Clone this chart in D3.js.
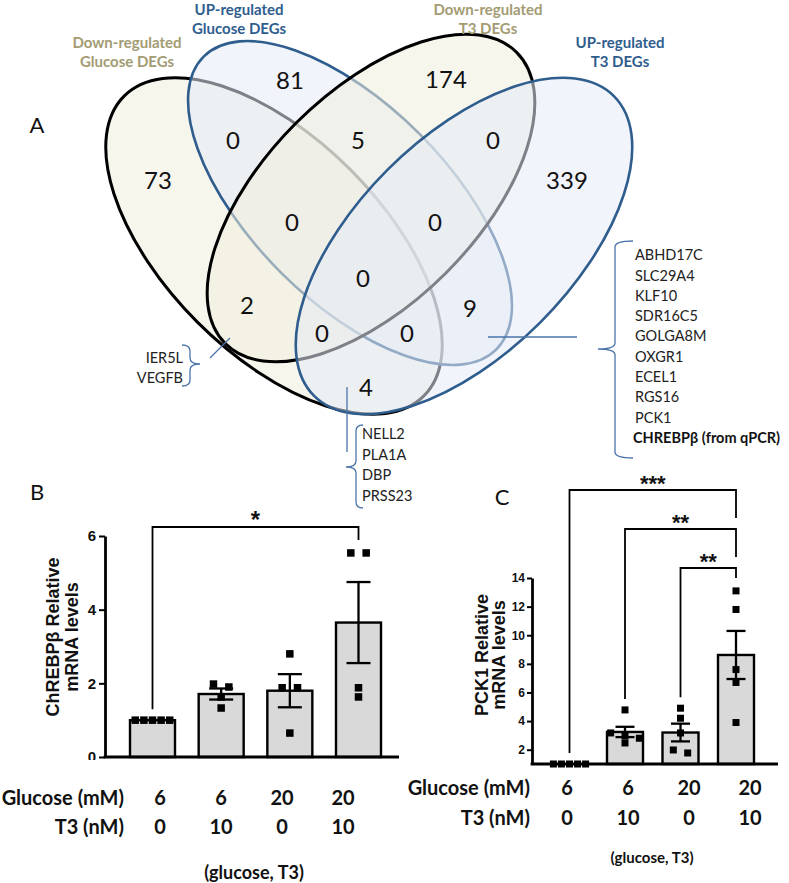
<!DOCTYPE html>
<html><head><meta charset="utf-8">
<script src="https://cdn.jsdelivr.net/npm/d3@7"></script>
<style>body{margin:0;background:#fff} svg{display:block}</style>
</head><body><svg id="fig" width="789" height="883"></svg>
<script>
// ================= DATA =================
// Venn (panel A)
const vennSetTitles = [["Down-regulated","Glucose DEGs"],["UP-regulated","Glucose DEGs"],["Down-regulated","T3 DEGs"],["UP-regulated","T3 DEGs"]];
const vennRegionSets   = ["A","B","C","D","AB","BC","CD","ABC","BCD","ABCD","AC","BD","ACD","ABD","AD"];
const vennRegionCounts = [73, 81, 174, 339, 0, 5, 0, 0, 0, 0, 2, 9, 0, 0, 4];
const genesAC = ["IER5L","VEGFB"];
const genesAD = ["NELL2","PLA1A","DBP","PRSS23"];
const genesBD = ["ABHD17C","SLC29A4","KLF10","SDR16C5","GOLGA8M","OXGR1","ECEL1","RGS16","PCK1"];
const genesBDqpcr = "CHREBPβ (from qPCR)";

// Bar charts (panels B, C)
const groups = ["6,0","6,10","20,0","20,10"];
const glucoseLabels = ["6","6","20","20"];
const t3Labels = ["0","10","0","10"];

const chrebpMean = [1.0, 1.71, 1.80, 3.65];
const chrebpSem  = [0, 0.15, 0.45, 1.10];
const chrebpPoints = [[1,1,1,1,1],[1.98,1.90,1.63,1.33],[2.80,1.88,1.88,0.65],[5.54,5.54,1.88,1.63]];
const chrebpTicks = [0,2,4,6];
const chrebpSig = [{from:0,to:3,label:"*"}];

const pck1Mean = [1.0, 3.24, 3.20, 8.62];
const pck1Sem  = [0, 0.36, 0.62, 1.68];
const pck1Points = [[1,1,1,1,1],[4.78,3.17,2.96,2.80,2.47],[4.90,4.20,3.17,1.98,1.77],[13.1,11.8,7.6,6.7,3.9]];
const pck1Ticks = [2,4,6,8,10,12,14];
const pck1Sig = [{from:0,to:3,label:"***"},{from:1,to:3,label:"**"},{from:2,to:3,label:"**"}];

// ================= DRAWING =================
const svg = d3.select("#fig");
svg.append("rect").attr("width",789).attr("height",883).attr("fill","#fff");
const VF = "Lato, 'Open Sans', sans-serif";
const AF = "'Liberation Sans', Arial, sans-serif";
const BLUE = "#2f5d8e", KHAKI = "#a39b72", LBLUE = "#4a74a8";

// ---- Venn geometry (layout) ----
const ellipses = [
  {cx:274, cy:246, rx:212, ry:108, rot:45,  fill:"#f1efdf", stroke:"#000", sw:3},
  {cx:350, cy:203, rx:207, ry:98,  rot:45,  fill:"#e6ebf5", stroke:BLUE,   sw:2.6},
  {cx:371, cy:198, rx:206, ry:106, rot:-45, fill:"#f1efdf", stroke:"#000", sw:3},
  {cx:464, cy:246, rx:212, ry:108, rot:-45, fill:"#e6ebf5", stroke:BLUE,   sw:2.6}
];
const venn = svg.append("g");
venn.selectAll("ellipse").data(ellipses).join("ellipse")
  .attr("transform", d => `translate(${d.cx},${d.cy}) rotate(${d.rot})`)
  .attr("rx", d => d.rx).attr("ry", d => d.ry)
  .attr("fill", d => d.fill).attr("fill-opacity", 0.55)
  .attr("stroke", d => d.stroke).attr("stroke-width", d => d.sw);

const regionPos = {A:[158,180],B:[290,80],C:[446,79],D:[567,180],AB:[233,140],BC:[358,140],CD:[493,140],
  ABC:[292,222],BCD:[435,222],ABCD:[363,278],AC:[247,305],BD:[470,308],ACD:[322,333],ABD:[407,333],AD:[366,387]};
venn.selectAll("text.cnt").data(vennRegionSets.map((s,i)=>({s, n:vennRegionCounts[i]}))).join("text")
  .attr("class","cnt")
  .attr("x", d => regionPos[d.s][0]).attr("y", d => regionPos[d.s][1]).attr("dy","0.36em")
  .attr("text-anchor","middle").attr("font-family",VF).attr("font-size",24).attr("fill","#111")
  .text(d => d.n);

// set titles
const titlePos = [[127,43,KHAKI],[239,10,BLUE],[488,10,KHAKI],[620,43,BLUE]];
vennSetTitles.forEach((t,i) => {
  const [x,y,c] = titlePos[i];
  t.forEach((line,j) => svg.append("text").attr("x",x).attr("y",y + j*19).attr("dy","0.36em")
    .attr("text-anchor","middle").attr("font-family",VF).attr("font-weight","bold").attr("font-size",15)
    .attr("fill",c).text(line));
});

svg.append("text").attr("x",37).attr("y",125).attr("dy","0.36em").attr("text-anchor","middle")
  .attr("font-family",VF).attr("font-size",22).attr("fill","#111").text("A");

// braces + connector lines
function brace(x, y0, y1, ym, w, t) {
  const r = Math.min(6, (y1-y0)/6);
  return `M${x+w},${y0} Q${x},${y0} ${x},${y0+r} L${x},${ym-r} Q${x},${ym} ${x-t},${ym} Q${x},${ym} ${x},${ym+r} L${x},${y1-r} Q${x},${y1} ${x+w},${y1}`;
}
const bg = svg.append("g").attr("fill","none").attr("stroke",LBLUE).attr("stroke-width",1.3);
bg.append("path").attr("d", brace(615,241,458,349,18,17));
bg.append("path").attr("d", brace(356,425,508,467,7,10));
bg.append("path").attr("d", brace(190,345,386,364,-8,-10));
bg.append("line").attr("x1",488).attr("y1",337).attr("x2",577).attr("y2",337);
bg.append("line").attr("x1",347).attr("y1",387).attr("x2",347).attr("y2",452);
bg.append("line").attr("x1",210).attr("y1",358).attr("x2",230).attr("y2",338);

function geneList(list, x, y0, step, anchor) {
  svg.append("g").selectAll("text").data(list).join("text")
    .attr("x",x).attr("y",(d,i)=>y0+i*step).attr("dy","0.36em").attr("text-anchor",anchor)
    .attr("font-family",VF).attr("font-size",14.5).attr("fill","#222").text(d=>d);
}
geneList(genesAC, 183, 358, 20, "end");
geneList(genesAD, 362, 434, 20.6, "start");
geneList(genesBD, 635, 255, 20.3, "start");
svg.append("text").attr("x",633).attr("y",255+9*20.3).attr("dy","0.36em").attr("font-family",VF)
  .attr("font-size",14.5).attr("font-weight","bold").attr("fill","#111").text(genesBDqpcr);

// ---- bar panels ----
function swarm(vals, y, mk) {
  const idx = vals.map((v,i)=>i).sort((a,b)=>vals[b]-vals[a]);
  const rows = [];
  idx.forEach(i => {
    const py = y(vals[i]); const r = rows[rows.length-1];
    if (r && Math.abs(py - r.y0) < mk*0.9) r.items.push(i); else rows.push({y0:py, items:[i]});
  });
  const off = new Array(vals.length).fill(0);
  rows.forEach(r => { const k = r.items.length; const step = k >= 4 ? mk*1.15 : mk*2.05;
    r.items.forEach((i,j) => off[i] = (j-(k-1)/2)*step); });
  return off;
}

function barPanel(c) {
  const g = svg.append("g");
  const {x, y, means, sems, points, baseV, barW, mk, capW} = c;
  // bars
  g.selectAll("rect.bar").data(means.map((m,i)=>({m,i})).filter(d=>d.m>baseV)).join("rect")
    .attr("x", d => x(groups[d.i]) - barW/2).attr("width", barW)
    .attr("y", d => y(d.m)).attr("height", d => y(baseV) - y(d.m))
    .attr("fill","#d9d9d9").attr("stroke","#000").attr("stroke-width",2.4);
  // points
  points.forEach((vals,i) => {
    const off = swarm(vals, y, mk);
    g.selectAll(null).data(vals).join("rect")
      .attr("x",(d,j)=>x(groups[i])+off[j]-mk/2).attr("y",d=>y(d)-mk/2)
      .attr("width",mk).attr("height",mk).attr("fill","#000");
  });
  // error bars
  const eb = g.append("g").attr("stroke","#000").attr("stroke-width",2.3);
  means.forEach((m,i) => {
    if (!sems[i]) return;
    const cx = x(groups[i]);
    eb.append("line").attr("x1",cx).attr("x2",cx).attr("y1",y(m+sems[i])).attr("y2",y(m-sems[i]));
    [m+sems[i], m-sems[i]].forEach(v => eb.append("line").attr("x1",cx-capW/2).attr("x2",cx+capW/2).attr("y1",y(v)).attr("y2",y(v)));
  });
  // y axis
  const ax = g.append("g").attr("transform",`translate(${c.axisX},0)`)
    .call(d3.axisLeft(y).tickValues(c.ticks).tickSize(c.tickLen).tickSizeOuter(0).tickPadding(c.tickPad).tickFormat(d3.format("d")));
  ax.select(".domain").attr("stroke-width",2.8);
  ax.selectAll(".tick line").attr("stroke-width",2);
  ax.selectAll(".tick text").attr("font-family",AF).attr("font-weight","bold").attr("font-size",c.tickFont).attr("fill","#111");
  // x axis line
  g.append("line").attr("x1",c.axisX-1.4).attr("x2",c.axisXEnd).attr("y1",y(baseV)).attr("y2",y(baseV))
    .attr("stroke","#000").attr("stroke-width",3);
  // y label
  c.ylabel.forEach((t,j) => g.append("text")
    .attr("transform",`translate(${c.ylabelX[j]},${c.ylabelY}) rotate(-90)`).attr("dy","0.36em")
    .attr("text-anchor","middle").attr("font-family",AF).attr("font-weight","bold").attr("font-size",18)
    .attr("fill","#111").text(t));
  // significance
  const sg = g.append("g").attr("stroke","#000").attr("stroke-width",1.8).attr("fill","none");
  c.sig.forEach((s,k) => {
    const by = c.sigY[k];
    const x1 = x(groups[s.from]), x2 = x(groups[s.to]);
    const leftEnd = y(d3.max(points[s.from])) - 11;
    const nextY = k+1 < c.sig.length ? c.sigY[k+1] - 11 : Infinity;
    const rightEnd = Math.min(y(d3.max(points[s.to])) - 13, nextY);
    sg.append("path").attr("d",`M${x1},${leftEnd} V${by} H${x2} V${rightEnd}`);
    g.append("text").attr("x",(x1+x2)/2).attr("y",by + 1).attr("text-anchor","middle")
      .attr("font-family",AF).attr("font-weight","bold").attr("font-size",c.starFont).attr("fill","#111")
      .text(s.label);
  });
  // condition table
  const lx = d3.scalePoint().domain(groups).range(c.labelRange);
  [[ "Glucose (mM)", glucoseLabels, c.rowY[0]], ["T3 (nM)", t3Labels, c.rowY[1]]].forEach(([title, labs, ry]) => {
    g.append("text").attr("x",c.rowTitleX).attr("y",ry).attr("dy","0.36em").attr("text-anchor","end")
      .attr("font-family",VF).attr("font-weight","bold").attr("font-size",20).attr("fill","#111").text(title);
    g.selectAll(null).data(labs).join("text").attr("x",(d,i)=>lx(groups[i])).attr("y",ry).attr("dy","0.36em")
      .attr("text-anchor","middle").attr("font-family",VF).attr("font-weight","bold").attr("font-size",20)
      .attr("fill","#111").text(d=>d);
  });
  g.append("text").attr("x",c.noteX).attr("y",c.noteY).attr("dy","0.36em").attr("text-anchor","middle")
    .attr("font-family",VF).attr("font-weight","bold").attr("font-size",c.noteFont).attr("fill","#111").text("(glucose, T3)");
  g.append("text").attr("x",c.letter[0]).attr("y",c.letter[1]).attr("dy","0.36em").attr("text-anchor","middle")
    .attr("font-family",VF).attr("font-size",22).attr("fill","#111").text(c.letter[2]);
  return g;
}

// Panel B
const xB = d3.scalePoint().domain(groups).range([152.5, 358.5]);
const yB = d3.scaleLinear().domain([0,6]).range([757,536]);
barPanel({x:xB, y:yB, means:chrebpMean, sems:chrebpSem, points:chrebpPoints, baseV:0, barW:45, mk:7.5, capW:24,
  ticks:chrebpTicks, axisX:105, axisXEnd:399, tickLen:6, tickPad:3, tickFont:15,
  ylabel:["ChREBPβ Relative","mRNA levels"], ylabelX:[53,72], ylabelY:637,
  sig:chrebpSig, sigY:[527], starFont:24,
  labelRange:[160,343], rowY:[798,827], rowTitleX:124, noteX:254, noteY:873, noteFont:18,
  letter:[37,492,"B"]});
// clip bottom of the "0" tick label as in the figure
svg.append("rect").attr("x",80).attr("y",760).attr("width",22).attr("height",14).attr("fill","#fff");

// Panel C
const xC = d3.scalePoint().domain(groups).range([569.5, 736]);
const yC = d3.scaleLinear().domain([1,14]).range([764,578]);
barPanel({x:xC, y:yC, means:pck1Mean, sems:pck1Sem, points:pck1Points, baseV:1, barW:36, mk:7, capW:19,
  ticks:pck1Ticks, axisX:532, axisXEnd:778, tickLen:5, tickPad:2, tickFont:12,
  ylabel:["PCK1 Relative","mRNA levels"], ylabelX:[482,499], ylabelY:655,
  sig:pck1Sig, sigY:[490,529,568], starFont:22,
  labelRange:[567,750], rowY:[788,818], rowTitleX:530, noteX:652, noteY:858, noteFont:15,
  letter:[502,497,"C"]});
</script></body></html>
